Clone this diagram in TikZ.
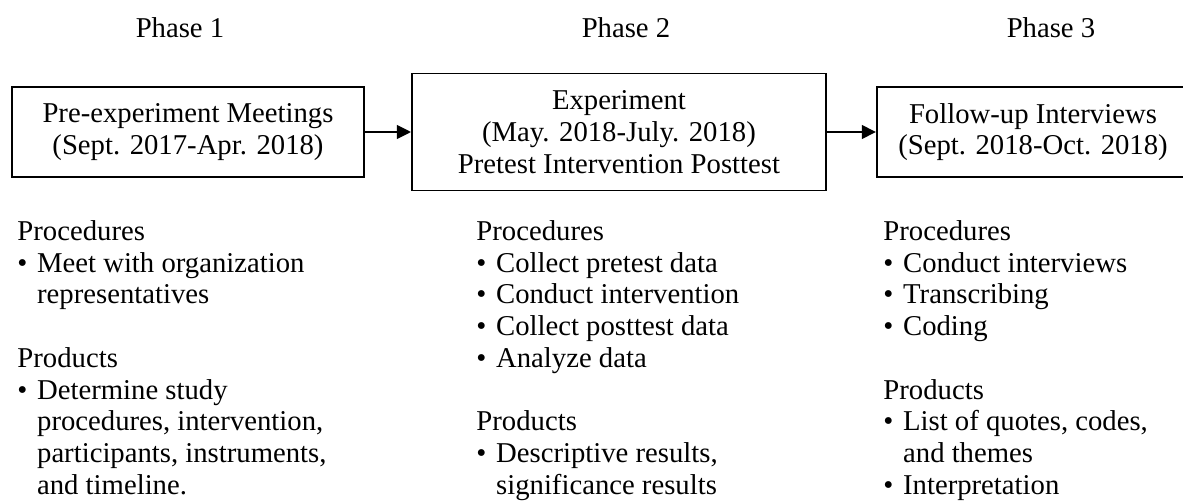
\documentclass[tikz,border=0pt]{standalone}
\usepackage{fontspec}
\setmainfont{Liberation Serif}
\usetikzlibrary{arrows.meta,positioning}
\newcommand{\bul}{\makebox[8.4pt][l]{\textbullet}}
\newcommand{\ind}{\hspace*{8.4pt}}

\begin{document}
\begin{tikzpicture}[x=0.015cm,y=-0.015cm,
  every node/.style={font=\fontsize{12.25}{13.55}\selectfont},
  phasebox/.style={draw,line width=0.8pt,align=center,inner sep=0pt,minimum height=1.35cm},
  arr/.style={line width=0.8pt,-{Triangle[length=6pt,width=5.8pt]}},
  list/.style={align=left,anchor=north west,inner sep=0pt}]
  \path[use as bounding box,clip] (0,0) rectangle (1183,502);

  % Phase titles
  \node[anchor=base] (t1) at (180,37) {Phase 1};
  \node[anchor=base] (t2) at (626,37) {Phase 2};
  \node[anchor=base] (t3) at (1051,37) {Phase 3};

  % Phase boxes (the third one runs off the right edge)
  \node[phasebox,minimum width=5.28cm] (p1box) at (188,132) {Pre-experiment Meetings\\(Sept. 2017-Apr. 2018)};
  \node[phasebox,minimum width=6.21cm,minimum height=1.755cm] (p2box) at (619,132) {Experiment\\(May. 2018-July. 2018)\\Pretest Intervention Posttest};
  \node[phasebox,minimum width=5.28cm,anchor=west] (p3box) at (876,132) {};
  \node[align=center,inner sep=0pt] (p3text) at (1033,132) {Follow-up Interviews\\(Sept. 2018-Oct. 2018)};
  \draw[arr] (p1box.east) -- (p2box.west);
  \draw[arr] (p2box.east) -- (p3box.west);

  % Procedures and products
  \node[list] (c1) at (17,220) {Procedures\\\bul Meet with organization\\\ind representatives\\[13.55pt]Products\\\bul Determine study\\\ind procedures, intervention,\\\ind participants, instruments,\\\ind and timeline.};
  \node[list] (c2) at (476,220) {Procedures\\\bul Collect pretest data\\\bul Conduct intervention\\\bul Collect posttest data\\\bul Analyze data\\[13.55pt]Products\\\bul Descriptive results,\\\ind significance results};
  \node[list] (c3) at (883,220) {Procedures\\\bul Conduct interviews\\\bul Transcribing\\\bul Coding\\[13.55pt]Products\\\bul List of quotes, codes,\\\ind and themes\\\bul Interpretation};
\end{tikzpicture}
\end{document}
